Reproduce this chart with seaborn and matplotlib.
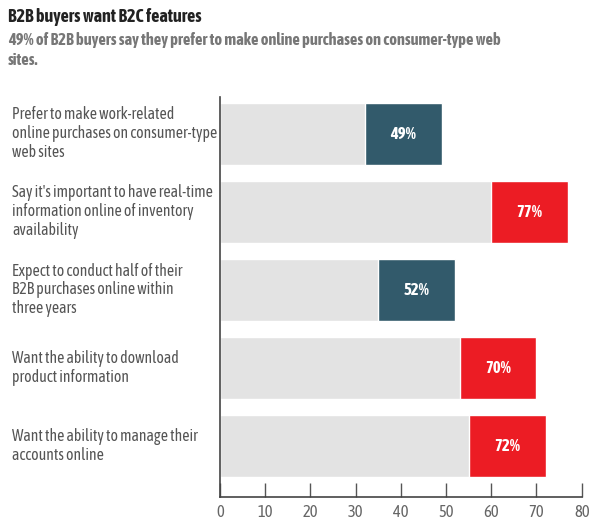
import matplotlib
matplotlib.use("Agg")
import matplotlib.pyplot as plt
import matplotlib.transforms as mtransforms
import seaborn as sns
import pandas as pd

categories = [
    "Prefer to make work-related\nonline purchases on consumer-type\nweb sites",
    "Say it's important to have real-time\ninformation online of inventory\navailability",
    "Expect to conduct half of their\nB2B purchases online within\nthree years",
    "Want the ability to download\nproduct information",
    "Want the ability to manage their\naccounts online",
]
values = [49, 77, 52, 70, 72]
grey_part = [32, 60, 35, 53, 55]
highlight = ["teal", "red", "teal", "red", "red"]
xticks = [0, 10, 20, 30, 40, 50, 60, 70, 80]

sns.set_theme(style="white")
plt.rcParams["font.family"] = ["Asap Condensed", "DejaVu Sans"]
plt.rcParams["font.stretch"] = "condensed"

df = pd.DataFrame({"cat": categories, "value": values, "grey": grey_part, "hl": highlight})

fig = plt.figure(figsize=(6, 5.29), dpi=100)
ax = fig.add_axes([0.3667, 0.0605, 0.6028, 0.7561])

pal = {"teal": "#325a6b", "red": "#ec1c24"}
sns.barplot(data=df, y="cat", x="value", hue="hl", palette=pal, dodge=False,
            width=0.79, ax=ax, legend=False, orient="h", saturation=1)
sns.barplot(data=df, y="cat", x="grey", color="#e3e3e3", width=0.79, ax=ax,
            orient="h", saturation=1)

for i, v in enumerate(values):
    ax.text((v + grey_part[i]) / 2, i, f"{v}%", ha="center", va="center",
            color="white", fontsize=12, fontweight="bold")

ax.set_xlim(0, 80)
ax.set_ylim(4.65, -0.47)
ax.set_xticks(xticks)
ax.set_xticklabels([str(t) for t in xticks], fontsize=12, color="#666666")
ax.set_yticks([])
ax.set_xlabel("")
ax.set_ylabel("")
ax.tick_params(axis="x", direction="in", length=10, width=1, color="#555555", pad=5, bottom=True)
for s in ["top", "right"]:
    ax.spines[s].set_visible(False)
for s in ["left", "bottom"]:
    ax.spines[s].set_color("#444444")
    ax.spines[s].set_linewidth(1.2)

trans = mtransforms.blended_transform_factory(fig.transFigure, ax.transData)
for i, c in enumerate(categories):
    ax.text(12 / 600, i, c, transform=trans, ha="left", va="center",
            fontsize=11.3, color="#555555", linespacing=1.15)

fig.text(8 / 600, 1 - 17 / 529, "B2B buyers want B2C features", ha="left", va="center",
         fontsize=13, fontweight="bold", color="#222222")
fig.text(8 / 600, 1 - 50 / 529,
         "49% of B2B buyers say they prefer to make online purchases on consumer-type web\nsites.",
         ha="left", va="center", fontsize=11.8, fontweight="bold", color="#777777", linespacing=1.3)

fig.savefig("out.png", dpi=100)
